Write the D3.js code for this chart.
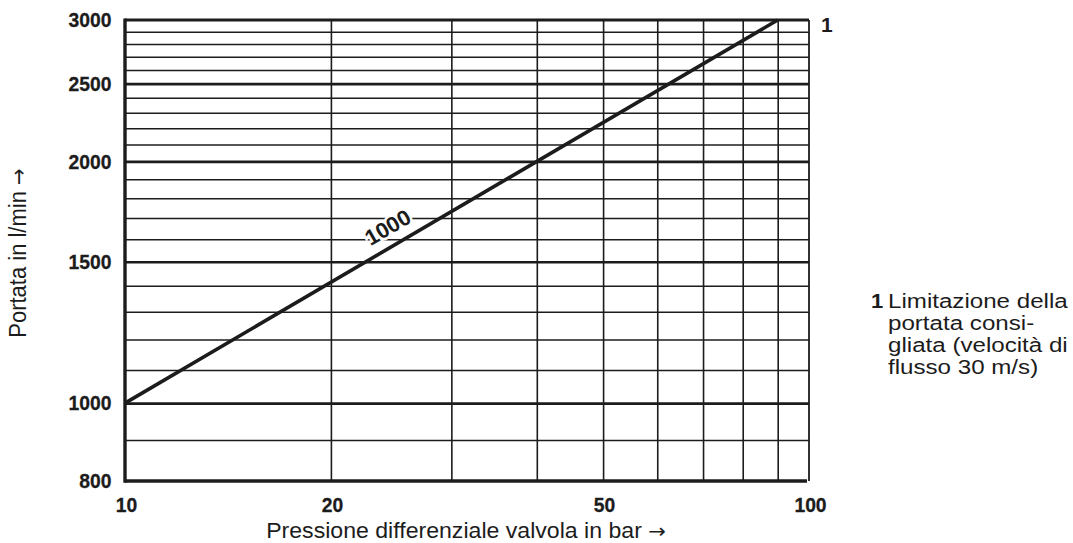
<!DOCTYPE html>
<html>
<head>
<meta charset="utf-8">
<script src="https://cdn.jsdelivr.net/npm/d3@7"></script>
<style>
  html, body { margin: 0; padding: 0; background: #fff; }
  svg { display: block; }
</style>
</head>
<body>
<svg id="chart" width="1073" height="543"></svg>
<script>
// Valve characteristic: flow rate against differential pressure (log-log)
const pressureTicks = [10, 20, 50, 100];
const pressureGrid = [20, 30, 40, 50, 60, 70, 80, 90];
const flowTicks = [800, 1000, 1500, 2000, 2500, 3000];
const flowMajor = [1000, 1500, 2000, 2500];
const flowMinor = [900, 1100, 1200, 1300, 1400, 1600, 1700, 1800, 1900,
                   2100, 2200, 2300, 2400, 2600, 2700, 2800, 2900];
const curvePressure = [10, 90];
const curveFlow = [1000, 3000];
const curveName = "1000";
const curveNameAt = 25;          // pressure where the curve name sits
const limitMark = "1";
const legendLines = ["Limitazione della", "portata consi-", "gliata (velocità di", "flusso 30 m/s)"];
const xTitle = "Pressione differenziale valvola in bar";
const yTitle = "Portata in l/min";
const arrow = "→";

const FONT = '"Liberation Sans", Arial, Helvetica, sans-serif';
const ARROW_FONT = '"DejaVu Sans", sans-serif';
const ink = "#1c1c1c";

const X0 = 125, X1 = 809, Y0 = 481, Y1 = 20;
const x = d3.scaleLog().domain([10, 100]).range([X0, X1]);
const y = d3.scaleLog().domain([800, 3000]).range([Y0, Y1]);

const svg = d3.select("#chart");

// vertical grid lines
svg.append("g")
  .attr("transform", `translate(0,${Y0})`)
  .call(d3.axisBottom(x).tickValues(pressureGrid).tickSize(-(Y0 - Y1)).tickFormat(""))
  .call(g => g.select(".domain").remove())
  .selectAll("line").attr("stroke", ink).attr("stroke-width", 1.6);

// horizontal grid: every 100 l/min, heavier every 500
svg.append("g")
  .attr("transform", `translate(${X0},0)`)
  .call(d3.axisLeft(y).tickValues(flowMinor).tickSize(-(X1 - X0)).tickFormat(""))
  .call(g => g.select(".domain").remove())
  .selectAll("line").attr("stroke", ink).attr("stroke-width", 1.5);

svg.append("g")
  .attr("transform", `translate(${X0},0)`)
  .call(d3.axisLeft(y).tickValues(flowMajor).tickSize(-(X1 - X0)).tickFormat(""))
  .call(g => g.select(".domain").remove())
  .selectAll("line").attr("stroke", ink).attr("stroke-width", 2.6);

// frame
const frame = svg.append("g").attr("stroke", ink).attr("fill", "none");
frame.append("line")   // top
  .attr("x1", x(10)).attr("x2", x(100)).attr("y1", y(3000)).attr("y2", y(3000))
  .attr("stroke-width", 3.2);
frame.append("line")   // right
  .attr("x1", x(100)).attr("x2", x(100)).attr("y1", y(3000)).attr("y2", y(800))
  .attr("stroke-width", 1.8);
frame.append("line")   // left axis
  .attr("x1", x(10)).attr("x2", x(10)).attr("y1", y(3000) - 1.6).attr("y2", y(800) + 1.8)
  .attr("stroke-width", 3.4);
frame.append("line")   // bottom axis
  .attr("x1", x(10)).attr("x2", x(100) - 2).attr("y1", y(800)).attr("y2", y(800))
  .attr("stroke-width", 3.6);

// characteristic curve
const curve = curvePressure.map((p, i) => ({ p, q: curveFlow[i] }));
svg.append("path")
  .datum(curve)
  .attr("fill", "none")
  .attr("stroke", ink)
  .attr("stroke-width", 3.6)
  .attr("d", d3.line().x(d => x(d.p)).y(d => y(d.q)));

// curve name, written along the curve
const slope = Math.log(curveFlow[1] / curveFlow[0]) / Math.log(curvePressure[1] / curvePressure[0]);
const qAt = curveFlow[0] * Math.pow(curveNameAt / curvePressure[0], slope);
const angle = Math.atan2(y(curveFlow[1]) - y(curveFlow[0]), x(curvePressure[1]) - x(curvePressure[0])) * 180 / Math.PI;
svg.append("text")
  .attr("transform", `translate(${x(curveNameAt)},${y(qAt)}) rotate(${angle})`)
  .attr("y", -11)
  .attr("text-anchor", "middle")
  .attr("font-family", FONT).attr("font-weight", "bold").attr("font-size", 22)
  .attr("fill", ink)
  .attr("stroke", "#fff").attr("stroke-width", 5).attr("paint-order", "stroke")
  .text(curveName);

// tick labels
svg.append("g").selectAll("text")
  .data(flowTicks).join("text")
  .attr("transform", d => `translate(111.5,${y(d)}) scale(0.92,1)`)
  .attr("text-anchor", "end")
  .attr("dominant-baseline", "central")
  .attr("font-family", FONT).attr("font-weight", "bold").attr("font-size", 21)
  .attr("fill", ink).attr("stroke", ink).attr("stroke-width", 0.3)
  .text(d => d);

svg.append("g").selectAll("text")
  .data(pressureTicks).join("text")
  .attr("transform", d => `translate(${x(d) + 1.5},505) scale(0.92,1)`)
  .attr("text-anchor", "middle")
  .attr("dominant-baseline", "central")
  .attr("font-family", FONT).attr("font-weight", "bold").attr("font-size", 21)
  .attr("fill", ink).attr("stroke", ink).attr("stroke-width", 0.3)
  .text(d => d);

// axis titles, each followed by an arrow
function titleWithArrow(sel, label) {
  sel.append("tspan").text(label + " ");
  sel.append("tspan").attr("font-family", ARROW_FONT).attr("font-size", 20).text(arrow);
}

svg.append("text")
  .attr("transform", `translate(466,538) scale(1.05,1)`)
  .attr("text-anchor", "middle")
  .attr("font-family", FONT).attr("font-size", 22)
  .attr("fill", ink)
  .call(titleWithArrow, xTitle);

svg.append("text")
  .attr("transform", `translate(26,253) rotate(-90) scale(1,1.1)`)
  .attr("text-anchor", "middle")
  .attr("font-family", FONT).attr("font-size", 22)
  .attr("fill", ink)
  .call(titleWithArrow, yTitle);

// limit marker at the end of the curve
svg.append("text")
  .attr("transform", `translate(${x(100) + 12},${y(3000) + 5}) scale(1.05,1)`)
  .attr("dominant-baseline", "central")
  .attr("font-family", FONT).attr("font-weight", "bold").attr("font-size", 20)
  .attr("fill", ink)
  .text(limitMark);

// legend note
const note = svg.append("g").attr("font-family", FONT).attr("font-size", 21).attr("fill", ink);
note.append("text")
  .attr("transform", `translate(871,308) scale(1.05,1)`)
  .attr("font-weight", "bold")
  .text(limitMark);
note.selectAll("text.line")
  .data(legendLines).join("text")
  .attr("class", "line")
  .attr("transform", (d, i) => `translate(888,${308 + i * 22}) scale(1.15,1)`)
  .text(d => d);
</script>
</body>
</html>
